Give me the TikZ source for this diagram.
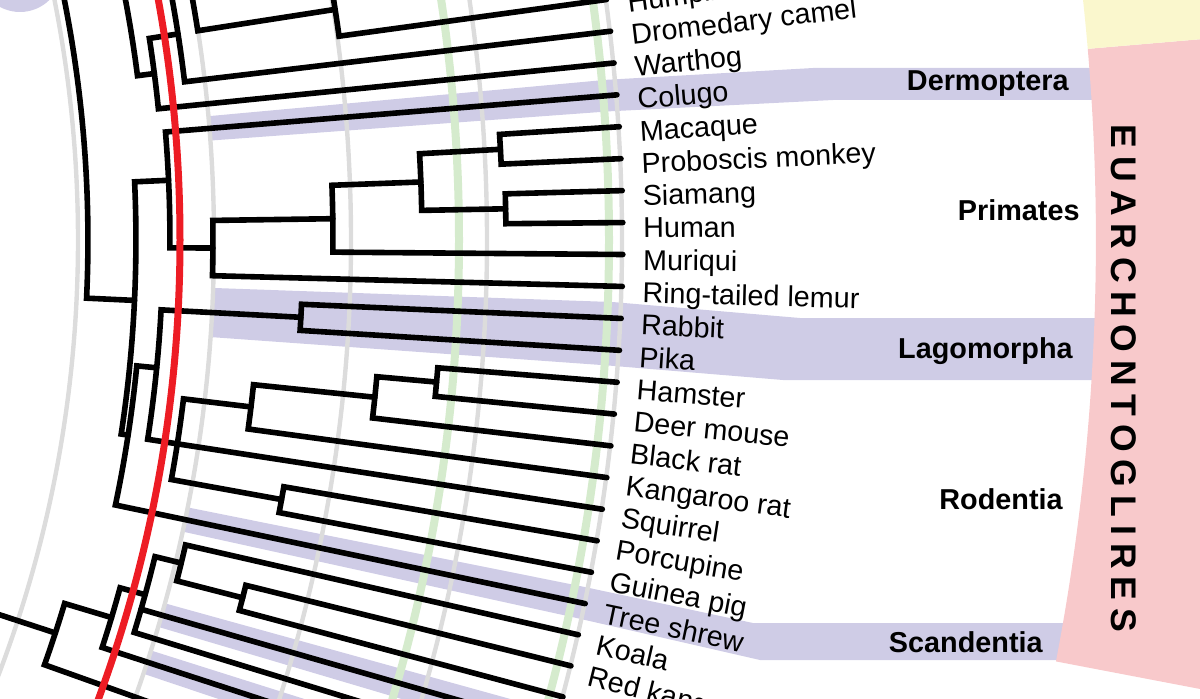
\documentclass[tikz,border=0pt]{standalone}
\usepackage{fontspec}
\setmainfont{Liberation Sans}
\usetikzlibrary{calc}
\definecolor{lav}{RGB}{207,204,230}
\definecolor{pinkc}{RGB}{248,201,203}
\definecolor{yelc}{RGB}{250,247,205}
\definecolor{grn}{RGB}{213,235,205}
\definecolor{gry}{RGB}{220,220,220}
\definecolor{redc}{RGB}{237,28,36}
\newcommand\clade[5]{\draw[br] (#2:#3) -- (#2:#1) arc[start angle=#2, end angle=#4, radius=#1] -- (#4:#5);}
\begin{document}
\begin{tikzpicture}[x=0.5pt,y=0.5pt,
  br/.style={line width=2.8pt, line cap=round, line join=miter, black},
  grayring/.style={draw=gry, line width=2.2pt},
  greenring/.style={draw=grn, line width=4pt},
  redring/.style={draw=redc, line width=3.5pt},
  lab/.style={anchor=base west, inner sep=0pt, font=\fontsize{14.35}{16}\selectfont},
  grp/.style={anchor=base east, inner sep=0pt, font=\bfseries\fontsize{14.4}{16}\selectfont},
  big/.style={anchor=base, inner sep=0pt, rotate=-90, font=\bfseries\fontsize{17.8}{18}\selectfont}]
\useasboundingbox (0,0) rectangle (1200,698);
\clip (0,0) rectangle (1200,698);
\fill[lav] (20,728) circle[radius=42];
\begin{scope}[shift={(-1147,458)}]
  \coordinate (C) at (0,0);
  % lavender bands
  \fill[lav] (5.22:1361) arc[start angle=5.22, end angle=4.19, radius=1361] -- (4.19:1761) -- (1980,140) -- (2300,140) -- (2300,172) -- (1960,172) -- (5.22:1761) -- cycle;
  \fill[lav] (-2.02:1361) arc[start angle=-2.02, end angle=-4.09, radius=1361] -- (-4.09:1761) -- (1930,-140) -- (2300,-140) -- (2300,-78) -- (1947,-78) -- (-2.02:1761) -- cycle;
  \fill[lav] (-11.33:1361) arc[start angle=-11.33, end angle=-12.37, radius=1361] -- (-12.37:1761) -- (1907,-420) -- (2300,-420) -- (2300,-383) -- (1900,-383) -- (-11.33:1761) -- cycle;
  \fill[lav] (-15.48:1361) arc[start angle=-15.48, end angle=-16.51, radius=1361] -- (-16.51:2000) -- (-15.48:2000) -- cycle;
  \fill[lav] (-17.55:1361) arc[start angle=-17.55, end angle=-18.58, radius=1361] -- (-18.58:2000) -- (-17.55:2000) -- cycle;
  % clade sectors on the right
  \fill[pinkc] (4.89:2243) arc[start angle=4.89, end angle=-10.83, radius=2243] -- (-10.83:2700) -- (4.89:2700) -- cycle;
  \fill[yelc] (4.89:2243) arc[start angle=4.89, end angle=20, radius=2243] -- (20:2700) -- (4.89:2700) -- cycle;
  % time rings
  \foreach \r in {1225,1361,1498,1634,1769} \draw[grayring] (C) circle[radius=\r];
  \foreach \r in {1606,1756} \draw[greenring] (C) circle[radius=\r];
  % tree
  \coordinate (N1) at (30:1235);
  \coordinate (E) at (-2.7:1283);
  \coordinate (Y) at (-8.7:1290);
  \draw[br] (-2.7:1283) -- (-2.7:1235) arc[start angle=-2.7, end angle=40, radius=1235];
  \draw[br] (7.29:1312) -- (7.29:1295) arc[start angle=7.29, end angle=40, radius=1295];
  \clade{1312}{5.74}{1770}{8.84}{1341}
  \clade{1341}{6.775}{1770}{10.9}{1361}
  \clade{1361}{8.845}{1500}{12.95}{1770}
  \clade{1500}{7.81}{1770}{9.88}{1770}
  \clade{1283}{2.6}{1317}{-8.7}{1290}
  \clade{1317}{4.705}{1770}{-0.34}{1360}
  \clade{1360}{0.825}{1480}{-1.505}{1770}
  \clade{1480}{2.12}{1569}{-0.47}{1770}
  \clade{1569}{3.1525}{1650}{1.0825}{1653}
  \clade{1650}{3.67}{1770}{2.635}{1770}
  \clade{1653}{1.60}{1770}{0.565}{1770}
  \clade{1290}{-5.6}{1310}{-11.855}{1770}
  \clade{1310}{-3.0575}{1450}{-8.75}{1340}
  \clade{1450}{-2.54}{1770}{-3.575}{1770}
  \clade{1340}{-6.81}{1408}{-10.3}{1452}
  \draw[br] (-8.75:1340) -- (-8.75:1770);
  \clade{1408}{-5.9}{1530}{-7.715}{1770}
  \clade{1530}{-5.1275}{1590}{-6.68}{1770}
  \clade{1590}{-4.61}{1770}{-5.645}{1770}
  \clade{1452}{-9.785}{1770}{-10.82}{1770}
  \draw[br] (-18.1:1100) -- (-18.1:1265);
  \clade{1265}{-16.7}{1314}{-19.62}{1770}
  \clade{1314}{-15.35}{1340}{-18.065}{1770}
  \clade{1340}{-13.67}{1367}{-17.03}{1770}
  \draw[br] (-15.995:1340) -- (-15.995:1770);
  \clade{1367}{-12.89}{1770}{-14.44}{1435}
  \clade{1435}{-13.925}{1770}{-14.96}{1770}
  % red ring
  \draw[redring] (C) circle[radius=1327];
  % tip labels
  \foreach \ang/\txt [count=\k] in {7.81/Humpback whale, 6.775/Dromedary camel, 5.74/Warthog, 4.705/Colugo, 3.67/Macaque, 2.635/Proboscis monkey, 1.60/Siamang, 0.565/Human, -0.47/Muriqui, -1.505/Ring-tailed lemur, -2.54/Rabbit, -3.575/Pika, -4.61/Hamster, -5.645/Deer mouse, -6.68/Black rat, -7.715/Kangaroo rat, -8.75/Squirrel, -9.785/Porcupine, -10.82/Guinea pig, -11.855/Tree shrew, -12.89/Koala, -13.925/Red kangaroo}
    \node[lab, rotate=\ang] (tip\k) at ({\ang-0.5}:1790) {\txt};
\end{scope}
% group labels
\node[grp] (gDer) at (1069,607) {Dermoptera};
\node[grp] (gPri) at (1080,478) {Primates};
\node[grp] (gLag) at (1073,340) {Lagomorpha};
\node[grp] (gRod) at (1063,189) {Rodentia};
\node[grp] (gSca) at (1043,46) {Scandentia};
\foreach \l/\yc [count=\k] in {E/136.7, U/169.4, A/203.0, R/236.7, C/270.4, H/304.1, O/338.8, N/373.4, T/405.2, O/437.9, G/473.5, L/506.2, I/530.2, R/556.0, E/588.8, S/620.6}
  \node[big] (eu\k) at (1111,{698-\yc}) {\l};
\end{tikzpicture}
\end{document}
